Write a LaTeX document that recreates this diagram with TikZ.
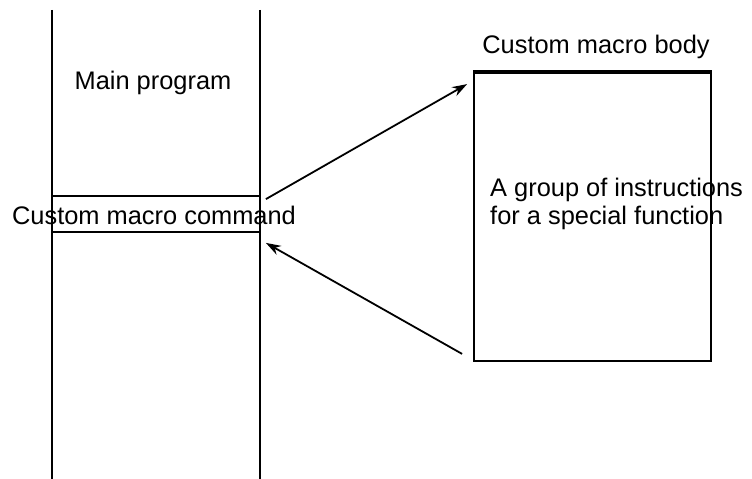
\documentclass[tikz,border=0pt]{standalone}
\usepackage{fontspec}
\setmainfont{Liberation Sans}
\usetikzlibrary{calc,positioning,arrows.meta}
\tikzset{
  txt/.style={font=\fontsize{25.5}{28}\selectfont, inner sep=0pt},
  frame/.style={draw, line width=1.8bp, inner sep=0pt},
  callarrow/.style={line width=1.8bp, -{Stealth[length=15bp,width=10bp]}},
}

\begin{document}
\begin{tikzpicture}[x=1bp,y=-1bp]
  \useasboundingbox (0,0) rectangle (752,479);
  % main program column
  \foreach \x in {52,260}{
    \draw[line width=1.8bp] (\x,10) -- (\x,479);
  }
  \node[txt] (main) at (153,83) {Main program};
  \node[frame, minimum width=208bp, minimum height=36bp] (cmd) at (156,214) {};
  \node[txt] (cmdtext) at (154,215) {Custom macro command};
  % macro body
  \node[frame, minimum width=237bp, minimum height=288bp] (body) at (592.5,217) {};
  \draw[line width=3.5bp] (body.north west) -- (body.north east);
  \node[txt] (bodytitle) at (596,47) {Custom macro body};
  \node[txt, anchor=west, align=left] (bodytext) at (490,204)
    {A group of instructions\\for a special function};
  % call and return
  \coordinate (callout) at ($(cmd.north east)+(5,4)$);
  \coordinate (callin) at ($(body.north west)+(-6,12)$);
  \coordinate (retout) at ($(body.south west)+(-11,-8)$);
  \coordinate (retin) at ($(cmd.south east)+(5,10)$);
  \draw[callarrow] (callout) -- (callin);
  \draw[callarrow] (retout) -- (retin);
\end{tikzpicture}
\end{document}
